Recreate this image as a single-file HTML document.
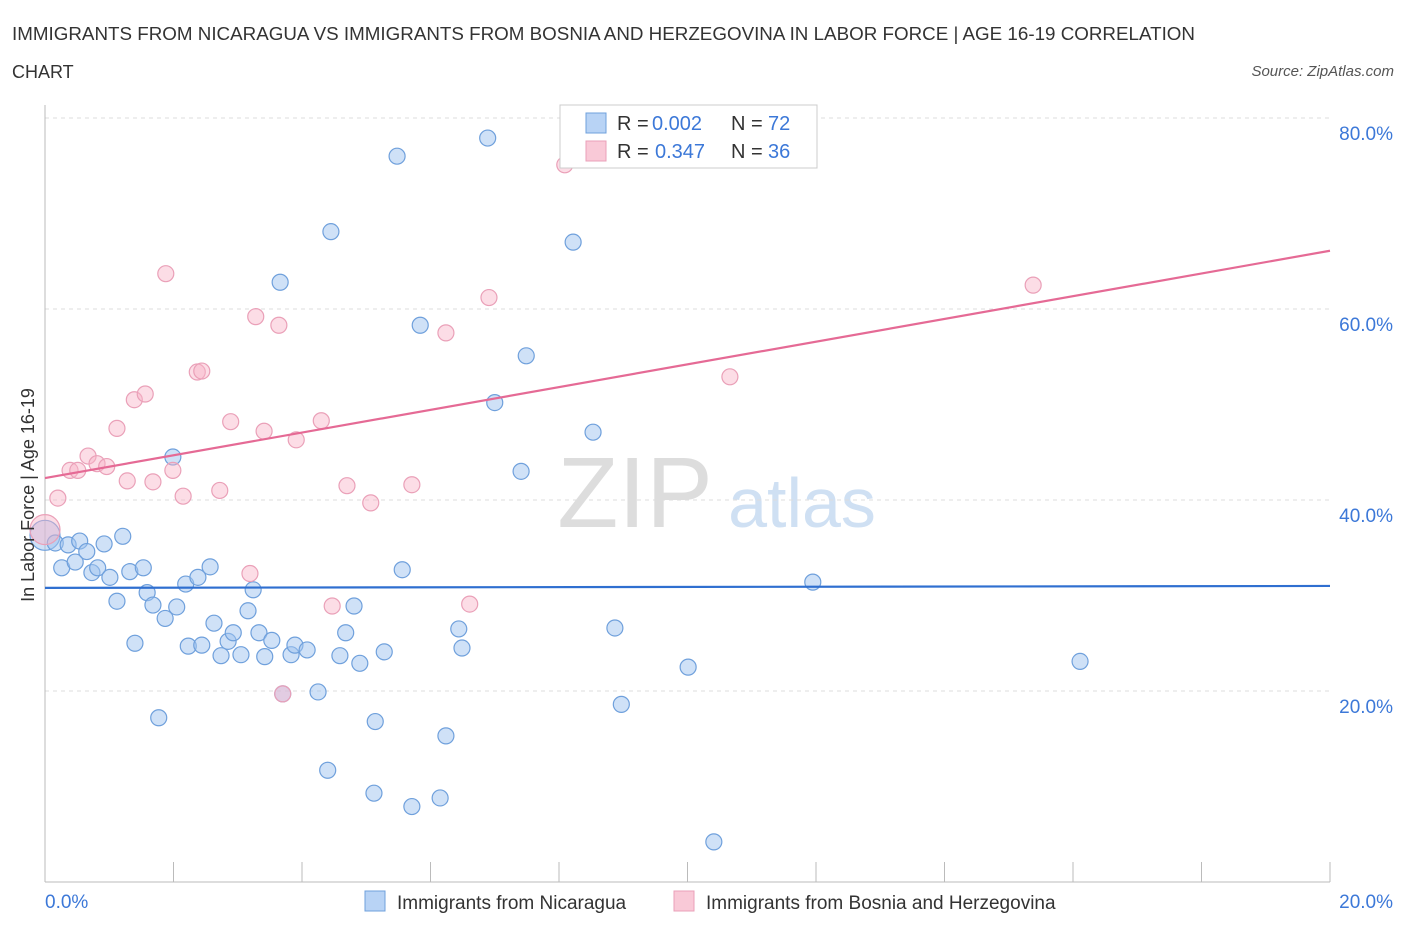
<!DOCTYPE html>
<html><head><meta charset="utf-8"><style>
body{margin:0;background:#fff;font-family:"Liberation Sans",sans-serif;}
svg text{font-family:"Liberation Sans",sans-serif;}
</style></head><body>
<svg id="c" width="1406" height="930">
<text x="12" y="40" font-size="18" fill="#333" textLength="1183" lengthAdjust="spacingAndGlyphs">IMMIGRANTS FROM NICARAGUA VS IMMIGRANTS FROM BOSNIA AND HERZEGOVINA IN LABOR FORCE | AGE 16-19 CORRELATION</text>
<text x="12" y="78" font-size="18" fill="#333">CHART</text>
<text x="1394" y="76" font-size="15" fill="#555" font-style="italic" text-anchor="end">Source: ZipAtlas.com</text>
<text x="635" y="527" font-size="100" fill="#ddd" font-family="Liberation Serif" text-anchor="middle">ZIP</text>
<text x="802" y="527" font-size="70" fill="#cfe0f3" text-anchor="middle">atlas</text>
<g id="grid"></g><g id="axes"></g><g id="marks"></g>
<text transform="translate(34,495) rotate(-90)" font-size="18" fill="#333" text-anchor="middle">In Labor Force | Age 16-19</text>
<g>
<rect x="560" y="105" width="257" height="63" fill="#fff" stroke="#ccc"/>
<rect x="586" y="113" width="20" height="20" fill="#b8d3f5" stroke="#6fa0dc"/>
<text x="617" y="130" font-size="20" fill="#333">R =</text>
<text x="652" y="130" font-size="20" fill="#3c78d8">0.002</text>
<text x="731" y="130" font-size="20" fill="#333">N =</text>
<text x="768" y="130" font-size="20" fill="#3c78d8">72</text>
<rect x="586" y="141" width="20" height="20" fill="#f9c9d7" stroke="#eaa0b8"/>
<text x="617" y="158" font-size="20" fill="#333">R =</text>
<text x="655" y="158" font-size="20" fill="#3c78d8">0.347</text>
<text x="731" y="158" font-size="20" fill="#333">N =</text>
<text x="768" y="158" font-size="20" fill="#3c78d8">36</text>
</g>
<g>
<rect x="365" y="891" width="20" height="20" fill="#b8d3f5" stroke="#6fa0dc"/>
<text x="397" y="909" font-size="19" fill="#333">Immigrants from Nicaragua</text>
<rect x="674" y="891" width="20" height="20" fill="#f9c9d7" stroke="#eaa0b8"/>
<text x="706" y="909" font-size="19" fill="#333">Immigrants from Bosnia and Herzegovina</text>
</g>
</svg>
<script>
const blueX=[0,.16,.26,.36,.47,.54,.65,.73,.82,.92,1.01,1.12,1.21,1.32,1.40,1.53,1.59,1.68,1.77,1.87,1.99,2.05,2.19,2.23,2.38,2.44,2.57,2.63,2.74,2.85,2.93,3.05,3.16,3.24,3.33,3.42,3.53,3.66,3.83,3.89,4.08,4.25,4.40,4.45,4.59,4.68,4.81,4.90,5.12,5.14,5.28,5.48,5.56,5.71,5.84,6.15,6.24,6.44,6.49,6.89,7.00,7.41,7.49,8.22,8.53,8.87,8.97,10.01,10.41,11.95,16.11,3.70];
const blueY=[36.3,35.5,32.9,35.3,33.5,35.7,34.6,32.4,32.9,35.4,31.9,29.4,36.2,32.5,25.0,32.9,30.3,29.0,17.2,27.6,44.5,28.8,31.2,24.7,31.9,24.8,33.0,27.1,23.7,25.2,26.1,23.8,28.4,30.6,26.1,23.6,25.3,62.8,23.8,24.8,24.3,19.9,11.7,68.1,23.7,26.1,28.9,22.9,9.3,16.8,24.1,76.0,32.7,7.9,58.3,8.8,15.3,26.5,24.5,77.9,50.2,43.0,55.1,67.0,47.1,26.6,18.6,22.5,4.2,31.4,23.1,19.7];
const pinkX=[0,.20,.39,.51,.67,.81,.96,1.12,1.28,1.39,1.56,1.68,1.88,1.99,2.15,2.37,2.44,2.72,2.89,3.19,3.28,3.41,3.64,3.70,3.91,4.30,4.47,4.70,5.07,5.71,6.24,6.61,6.91,8.09,10.66,15.38];
const pinkY=[36.9,40.2,43.1,43.1,44.6,43.8,43.5,47.5,42.0,50.5,51.1,41.9,63.7,43.1,40.4,53.4,53.5,41.0,48.2,32.3,59.2,47.2,58.3,19.7,46.3,48.3,28.9,41.5,39.7,41.6,57.5,29.1,61.2,75.1,52.9,62.5];
const blueTrend=[30.8,31.0];
const pinkTrend=[42.3,66.1];
const yTicks=[20,40,60,80];
const xTickLabels=["0.0%","20.0%"];
const NS="http://www.w3.org/2000/svg";
const sx=v=>45+v*64.25, sy=v=>882-v*9.55;
function mk(t,a,p){const e=document.createElementNS(NS,t);for(const k in a)e.setAttribute(k,a[k]);p.appendChild(e);return e;}
const grid=document.getElementById('grid'),axes=document.getElementById('axes'),marks=document.getElementById('marks');
yTicks.forEach(v=>{
 const l=mk('line',{x1:45,x2:1330,y1:sy(v),y2:sy(v),stroke:'#ddd','stroke-dasharray':'4,4'},grid);
 
 
 const t=mk('text',{x:1393,y:sy(v)+22,'font-size':19,fill:'#3c78d8','text-anchor':'end'},axes);
 t.textContent=v.toFixed(1)+'%';
 
 
});
mk('line',{x1:45,x2:45,y1:105,y2:882,stroke:'#bbb'},axes);
mk('line',{x1:45,x2:1330,y1:882,y2:882,stroke:'#bbb'},axes);
for(let i=0;i<=10;i++){const x=sx(i*2);const tk=mk('line',{x1:x,x2:x,y1:862,y2:882,stroke:'#bbb'},axes);
 
 }
[[0,'start',45],[20,'end',1393]].forEach((d,i)=>{const t=mk('text',{x:d[2],y:908,'font-size':19,fill:'#3c78d8','text-anchor':d[1]},axes);t.textContent=xTickLabels[i];
 
 });
function pts(X,Y,fill,stroke,name){X.forEach((x,i)=>{const r=x===0?15:8;
 const c=mk('circle',{cx:sx(x),cy:sy(Y[i]),r:r,fill:fill,stroke:stroke,'stroke-width':1.2},marks);
 
 });}
pts(blueX,blueY,'rgba(160,196,240,0.5)','#6fa0dc','nicaragua-point');
pts(pinkX,pinkY,'rgba(248,180,200,0.45)','#eaa0b8','bosnia-point');
const bl=mk('line',{x1:sx(0),x2:sx(20),y1:sy(blueTrend[0]),y2:sy(blueTrend[1]),stroke:'#2f6fd0','stroke-width':2.2},marks);


const pl=mk('line',{x1:sx(0),x2:sx(20),y1:sy(pinkTrend[0]),y2:sy(pinkTrend[1]),stroke:'#e56a95','stroke-width':2.2},marks);


</script>
</body></html>
